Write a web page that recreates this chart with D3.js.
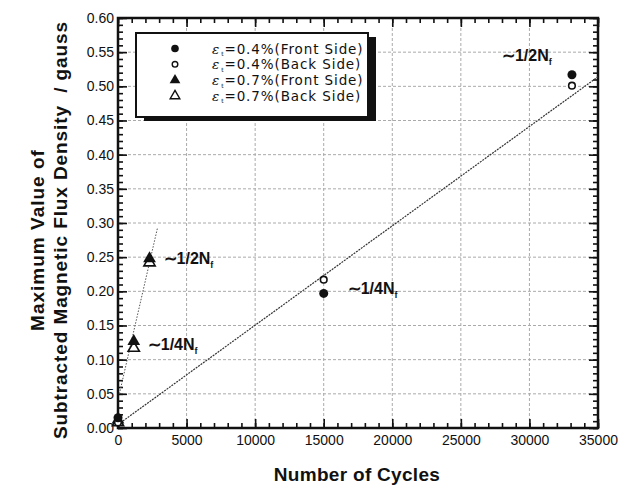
<!DOCTYPE html>
<html><head><meta charset="utf-8">
<script src="https://cdn.jsdelivr.net/npm/d3@7"></script>
<style>body{margin:0;background:#fff;} svg{display:block;}</style>
</head><body><svg id="c" width="630" height="487"></svg>
<script>
// ---- data ----
const xTicks = [0,5000,10000,15000,20000,25000,30000,35000];
const yTicks = [0,0.05,0.10,0.15,0.20,0.25,0.30,0.35,0.40,0.45,0.50,0.55,0.60];
const s04Front = [[0,0.015],[15000,0.197],[33100,0.517]];
const s04Back  = [[0,0.008],[15000,0.217],[33100,0.501]];
const s07Front = [[0,0.012],[1150,0.127],[2300,0.248]];
const s07Back  = [[0,0.008],[1150,0.117],[2300,0.242]];
const fit04 = [[0,0.005],[35000,0.514]];
const fit07 = [[100,0.05],[2870,0.292]];
const legendLabels = ["=0.4%(Front Side)","=0.4%(Back Side)","=0.7%(Front Side)","=0.7%(Back Side)"];
const notes = [
  {x:2300,y:0.248,t:"1/2N",dx:14,dy:5},
  {x:1150,y:0.122,t:"1/4N",dx:14,dy:5},
  {x:15000,y:0.197,t:"1/4N",dx:24,dy:1},
  {x:33100,y:0.517,t:"1/2N",dx:-70,dy:-14}
];

const svg = d3.select("#c");
const L=118,R=598,T=18,B=428;
const x = d3.scaleLinear().domain([0,35000]).range([L,R]);
const y = d3.scaleLinear().domain([0,0.6]).range([B,T]);
const font = "'Liberation Sans', Arial, sans-serif";

// grid
const g = svg.append("g");
g.selectAll(".gx").data(xTicks.slice(1,-1)).enter().append("line")
  .attr("x1",d=>x(d)).attr("x2",d=>x(d)).attr("y1",T).attr("y2",B)
  .attr("stroke","#aaa").attr("stroke-width",1).attr("stroke-dasharray","3,2");
g.selectAll(".gy").data(yTicks.slice(1,-1)).enter().append("line")
  .attr("y1",d=>y(d)).attr("y2",d=>y(d)).attr("x1",L).attr("x2",R)
  .attr("stroke","#aaa").attr("stroke-width",1).attr("stroke-dasharray","3,2");

// axes with inward ticks
const xMinor = d3.range(0,35001,1000), yMinor = d3.range(0,0.6001,0.01);
function ticks(axisFn, scale, vals, len, trans){
  svg.append("g").attr("transform",trans)
    .call(axisFn(scale).tickValues(vals).tickSize(len).tickFormat(""))
    .call(a=>a.select(".domain").remove())
    .selectAll("line").attr("stroke","#111").attr("stroke-width",1.6);
}
ticks(d3.axisTop, x, xMinor, 5, `translate(0,${B})`);
ticks(d3.axisTop, x, xTicks, 9, `translate(0,${B})`);
ticks(d3.axisBottom, x, xMinor, 5, `translate(0,${T})`);
ticks(d3.axisBottom, x, xTicks, 9, `translate(0,${T})`);
ticks(d3.axisRight, y, yMinor, 5, `translate(${L},0)`);
ticks(d3.axisRight, y, yTicks, 9, `translate(${L},0)`);
ticks(d3.axisLeft, y, yMinor, 5, `translate(${R},0)`);
ticks(d3.axisLeft, y, yTicks, 9, `translate(${R},0)`);

// labels
const xa = svg.append("g").attr("transform",`translate(0,${B})`)
  .call(d3.axisBottom(x).tickValues(xTicks).tickSize(0).tickPadding(7).tickFormat(d3.format("d")));
xa.select(".domain").remove();
xa.selectAll("text").attr("font-family",font).attr("font-size",14).attr("fill","#111");
const ya = svg.append("g").attr("transform",`translate(${L},0)`)
  .call(d3.axisLeft(y).tickValues(yTicks).tickSize(0).tickPadding(4).tickFormat(d3.format(".2f")));
ya.select(".domain").remove();
ya.selectAll("text").attr("font-family",font).attr("font-size",14).attr("fill","#111");

svg.append("rect").attr("x",L).attr("y",T).attr("width",R-L).attr("height",B-T)
  .attr("fill","none").attr("stroke","#111").attr("stroke-width",2.5);

// fit lines
const line = d3.line().x(d=>x(d[0])).y(d=>y(d[1]));
svg.append("path").attr("d",line(fit04)).attr("fill","none").attr("stroke","#333")
  .attr("stroke-width",1.2).attr("stroke-dasharray","2,1");
svg.append("path").attr("d",line(fit07)).attr("fill","none").attr("stroke","#555")
  .attr("stroke-width",1).attr("stroke-dasharray","1.5,1.5");

// markers
const tri = d3.symbol().type(d3.symbolTriangle);
function drawCircles(data, filled){
  svg.append("g").selectAll("circle").data(data).enter().append("circle")
    .attr("cx",d=>x(d[0])).attr("cy",d=>y(d[1])).attr("r",filled?4.5:3.3)
    .attr("fill",filled?"#111":"#fff").attr("stroke","#111").attr("stroke-width",filled?0:1.6);
}
function drawTris(data, filled){
  svg.append("g").selectAll("path").data(data).enter().append("path")
    .attr("d",tri.size(filled?70:55)())
    .attr("transform",d=>`translate(${x(d[0])},${y(d[1])})`)
    .attr("fill",filled?"#111":"#fff").attr("stroke","#111").attr("stroke-width",filled?0:1.6);
}
drawTris(s07Back,false); drawTris(s07Front,true);
drawCircles(s04Back,false); drawCircles(s04Front,true);

// annotations
notes.forEach(n=>{
  const t = svg.append("text").attr("x",x(n.x)+n.dx).attr("y",y(n.y)+n.dy)
    .attr("font-family",font).attr("font-size",16).attr("font-weight","bold").attr("fill","#111");
  t.append("tspan").text("∼"+n.t);
  t.append("tspan").attr("font-size",9).attr("dy",4).text("f");
});

// legend
const lg = svg.append("g");
lg.append("rect").attr("x",144).attr("y",37).attr("width",232).attr("height",84).attr("fill","#111");
lg.append("rect").attr("x",136).attr("y",33).attr("width",232).attr("height",84)
  .attr("fill","#fff").attr("stroke","#111").attr("stroke-width",2);
legendLabels.forEach((lab,i)=>{
  const cy = 48.5 + i*15.8;
  if(i<2){
    lg.append("circle").attr("cx",175).attr("cy",cy).attr("r",i===0?3.8:2.8)
      .attr("fill",i===0?"#111":"#fff").attr("stroke","#111").attr("stroke-width",i===0?0:1.4);
  } else {
    lg.append("path").attr("d",tri.size(i===2?50:40)()).attr("transform",`translate(175,${cy})`)
      .attr("fill",i===2?"#111":"#fff").attr("stroke","#111").attr("stroke-width",i===2?0:1.4);
  }
  const t = lg.append("text").attr("x",212).attr("y",cy+5)
    .attr("font-family","'DejaVu Sans', sans-serif").attr("font-size",13.5)
    .attr("letter-spacing",0.9).attr("fill","#111");
  t.append("tspan").attr("font-family","'DejaVu Serif', serif").attr("font-style","italic").text("ε");
  t.append("tspan").attr("font-size",6).attr("dy",2.5).attr("dx",1).text("t");
  t.append("tspan").attr("dy",-2.5).text(lab);
});

// axis titles
svg.append("text").attr("x",357).attr("y",481).attr("text-anchor","middle")
  .attr("font-family",font).attr("font-size",19).attr("font-weight","bold").attr("fill","#111")
  .attr("letter-spacing",0.3).text("Number of Cycles");
svg.append("text").attr("transform","translate(44,240) rotate(-90)").attr("text-anchor","middle")
  .attr("font-family",font).attr("font-size",19).attr("font-weight","bold").attr("fill","#111")
  .attr("letter-spacing",1).text("Maximum Value of");
svg.append("text").attr("transform","translate(67,230) rotate(-90)").attr("text-anchor","middle")
  .attr("font-family",font).attr("font-size",19).attr("font-weight","bold").attr("fill","#111")
  .attr("letter-spacing",0.9).attr("xml:space","preserve").text("Subtracted Magnetic Flux Density  / gauss");
</script></body></html>
